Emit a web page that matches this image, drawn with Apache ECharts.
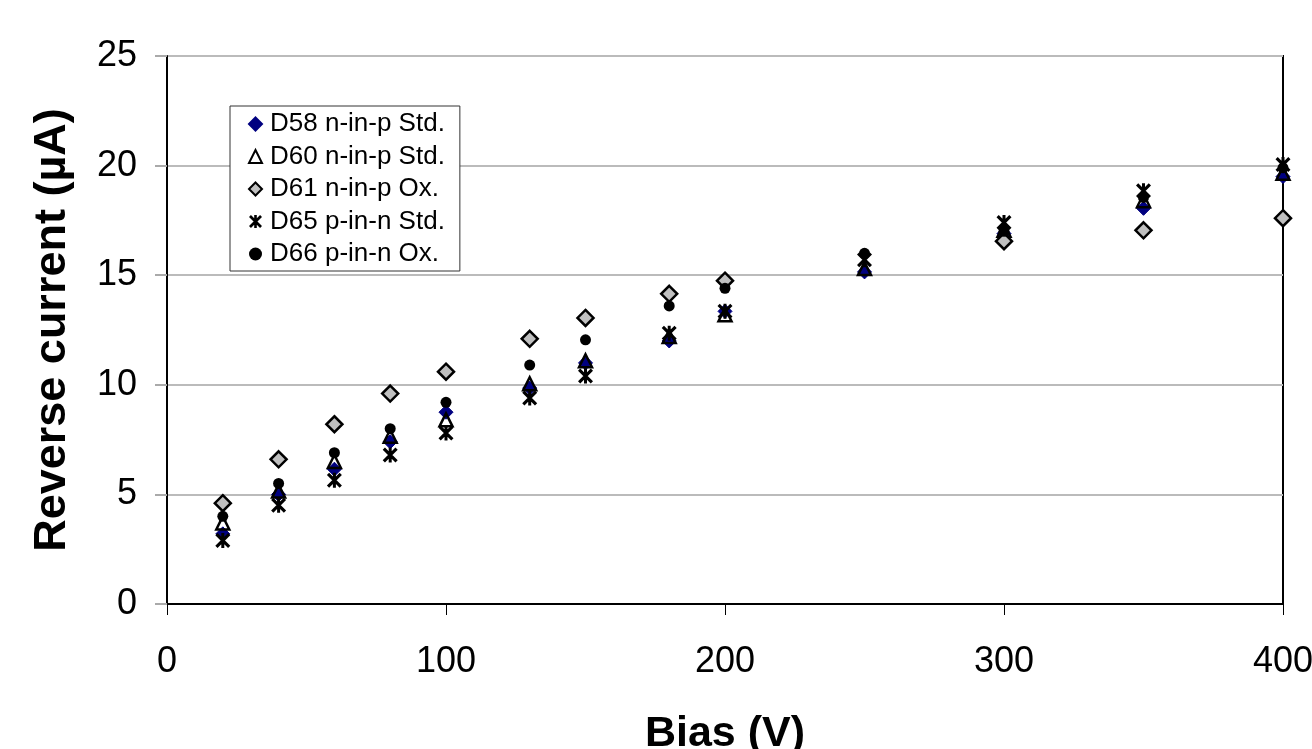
<!DOCTYPE html>
<html>
<head>
<meta charset="utf-8">
<script src="https://cdn.jsdelivr.net/npm/echarts@6/dist/echarts.min.js"></script>
<style>
html,body{margin:0;padding:0;background:#fff;overflow:hidden;}
#chart{width:1312px;height:749px;}
</style>
</head>
<body>
<div id="chart"></div>
<script>
// Bias values (V)
var bias = [20, 40, 60, 80, 100, 130, 150, 180, 200, 250, 300, 350, 400];
// Reverse current (µA) per detector
var d58 = [3.2, 5.0, 6.15, 7.4, 8.75, 9.85, 11.0, 12.0, 13.35, 15.15, 16.9, 18.05, 19.5];
var d60 = [3.7, 5.15, 6.5, 7.65, 8.4, 10.05, 11.1, 12.2, 13.2, 15.3, 17.05, 18.4, 19.65];
var d61 = [4.6, 6.6, 8.2, 9.6, 10.6, 12.1, 13.05, 14.15, 14.75, null, 16.55, 17.05, 17.6];
var d65 = [2.9, 4.5, 5.65, 6.8, 7.8, 9.4, 10.4, 12.35, 13.35, 15.7, 17.4, 18.85, 20.05];
var d66 = [4.0, 5.5, 6.9, 8.0, 9.2, 10.9, 12.05, 13.6, 14.4, 16.0, 17.0, 18.55, 19.9];
var names = ['D58 n-in-p Std.', 'D60 n-in-p Std.', 'D61 n-in-p Ox.', 'D65 p-in-n Std.', 'D66 p-in-n Ox.'];
var xTicks = [0, 100, 200, 300, 400];
var yTicks = [0, 5, 10, 15, 20, 25];

function pairs(ys){
  var out = [];
  bias.forEach(function(x,i){ if (ys[i] !== null) out.push([x, ys[i]]); });
  return out;
}

var starPath = 'path://M40,0 L60,0 L60,100 L40,100 Z M0,15 L15,0 L100,85 L85,100 Z M85,0 L100,15 L15,100 L0,85 Z';

var chart = echarts.init(document.getElementById('chart'), null, {renderer:'canvas'});
var font = 'Liberation Sans, Arial, sans-serif';
chart.setOption({
  backgroundColor: '#ffffff',
  animation: false,
  grid: {left: 167, right: 29, top: 56, bottom: 145, containLabel: false, outerBoundsMode: 'none',
         show: true, borderColor: '#000', borderWidth: 2, backgroundColor: 'transparent'},
  legend: {
    orient: 'vertical', left: 230, top: 106,
    padding: [5, 15, 4, 18],
    itemGap: 6.5, itemWidth: 13, itemHeight: 13,
    borderColor: '#333', borderWidth: 1, backgroundColor: '#fff',
    textStyle: {fontFamily: font, fontSize: 26, color: '#000', padding: [0,0,0,3]},
    data: names
  },
  xAxis: {
    type: 'value', min: 0, max: 400, interval: 100,
    name: 'Bias (V)', nameLocation: 'middle', nameGap: 109,
    nameTextStyle: {fontFamily: font, fontSize: 43, fontWeight: 'bold', color: '#000'},
    axisLine: {show: true, lineStyle: {color: '#000', width: 2}},
    axisTick: {show: true, length: 11, lineStyle: {color: '#000', width: 1}},
    axisLabel: {fontFamily: font, fontSize: 36, color: '#000', margin: 40,
      formatter: function(v){ return xTicks.indexOf(v) >= 0 ? String(v) : ''; }},
    splitLine: {show: false}
  },
  yAxis: {
    type: 'value', min: 0, max: 25, interval: 5,
    name: 'Reverse current (\u00b5A)', nameLocation: 'middle', nameGap: 92,
    nameTextStyle: {fontFamily: font, fontSize: 45, fontWeight: 'bold', color: '#000'},
    axisLine: {show: true, lineStyle: {color: '#000', width: 2}},
    axisTick: {show: true, length: 12, lineStyle: {color: '#aaa', width: 2}},
    axisLabel: {fontFamily: font, fontSize: 36, color: '#000', margin: 30,
      formatter: function(v){ return yTicks.indexOf(v) >= 0 ? String(v) : ''; }},
    splitLine: {show: true, lineStyle: {color: '#bbb', width: 2}}
  },
  series: [
    {name: names[0], type: 'scatter', data: pairs(d58), symbol: 'diamond', symbolSize: 14,
     itemStyle: {color: '#000080', borderColor: '#000080', borderWidth: 1, opacity: 1}, z: 2},
    {name: names[1], type: 'scatter', data: pairs(d60), symbol: 'triangle', symbolSize: 13,
     itemStyle: {color: 'rgba(255,255,255,0)', borderColor: '#000', borderWidth: 2.5, opacity: 1}, z: 3},
    {name: names[2], type: 'scatter', data: pairs(d61), symbol: 'diamond', symbolSize: 16,
     itemStyle: {color: '#c0c0c0', borderColor: '#000', borderWidth: 2.5, opacity: 1}, z: 4},
    {name: names[3], type: 'scatter', data: pairs(d65), symbol: starPath, symbolSize: 15,
     itemStyle: {color: '#000', borderWidth: 0, opacity: 1}, z: 5},
    {name: names[4], type: 'scatter', data: pairs(d66), symbol: 'circle', symbolSize: 11,
     itemStyle: {color: '#000', borderColor: '#000', borderWidth: 0, opacity: 1}, z: 6}
  ]
});
</script>
</body>
</html>
